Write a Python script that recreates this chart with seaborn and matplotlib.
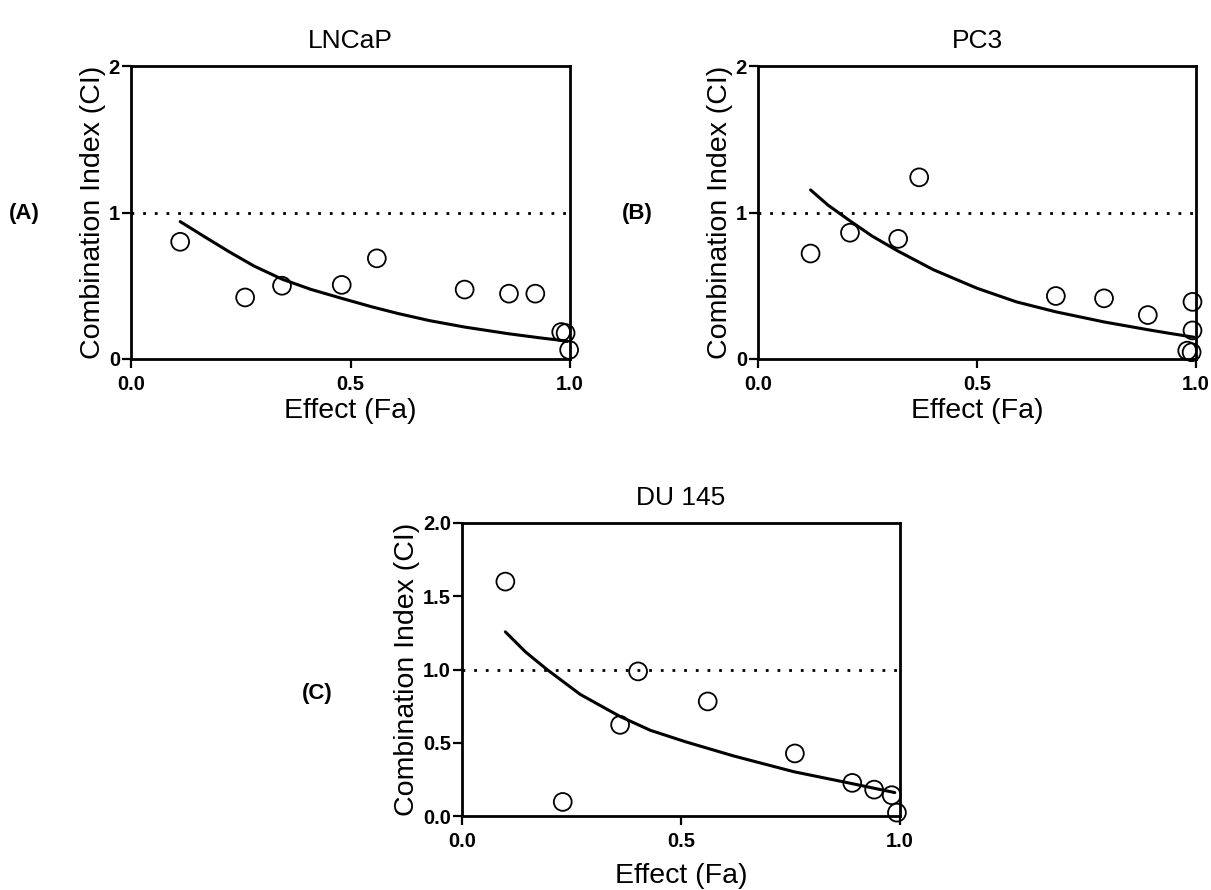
import numpy as np
import pandas as pd
import seaborn as sns
import matplotlib.pyplot as plt

# measured points (Fa, CI)
lncap_fa = [0.112, 0.26, 0.344, 0.48, 0.56, 0.76, 0.861, 0.921, 0.98, 0.99, 0.998]
lncap_ci = [0.80, 0.42, 0.50, 0.506, 0.687, 0.474, 0.446, 0.446, 0.184, 0.177, 0.062]
lncap_curve_fa = [0.112, 0.17, 0.223, 0.28, 0.344, 0.41, 0.48, 0.55, 0.609, 0.68, 0.76, 0.861, 0.93, 0.994]
lncap_curve_ci = [0.938, 0.83, 0.733, 0.635, 0.545, 0.475, 0.414, 0.355, 0.31, 0.262, 0.218, 0.172, 0.145, 0.122]

pc3_fa = [0.12, 0.21, 0.32, 0.368, 0.68, 0.79, 0.89, 0.992, 0.992, 0.98, 0.99]
pc3_ci = [0.72, 0.862, 0.82, 1.24, 0.43, 0.414, 0.30, 0.39, 0.195, 0.057, 0.046]
pc3_curve_fa = [0.12, 0.16, 0.21, 0.26, 0.32, 0.40, 0.5, 0.59, 0.68, 0.79, 0.89, 0.94, 0.995]
pc3_curve_ci = [1.154, 1.05, 0.943, 0.84, 0.736, 0.61, 0.483, 0.39, 0.322, 0.253, 0.20, 0.175, 0.149]

du145_fa = [0.099, 0.23, 0.361, 0.402, 0.561, 0.76, 0.891, 0.941, 0.981, 0.993]
du145_ci = [1.60, 0.096, 0.622, 0.987, 0.782, 0.427, 0.226, 0.18, 0.142, 0.023]
du145_curve_fa = [0.099, 0.145, 0.194, 0.27, 0.361, 0.43, 0.51, 0.62, 0.758, 0.889, 0.94, 0.988]
du145_curve_ci = [1.257, 1.12, 1.0, 0.83, 0.679, 0.585, 0.507, 0.41, 0.302, 0.222, 0.19, 0.16]

sns.set_style("ticks")
plt.rcParams['font.family'] = ['Liberation Sans', 'DejaVu Sans']
plt.rcParams['text.color'] = 'black'
plt.rcParams['axes.labelcolor'] = 'black'
plt.rcParams['xtick.color'] = 'black'
plt.rcParams['ytick.color'] = 'black'
plt.rcParams['axes.edgecolor'] = 'black'

fig = plt.figure(figsize=(12.11, 8.90), dpi=100)
W, H = 1211, 890
def box(x0, x1, y0, y1):
    return [x0 / W, 1 - y1 / H, (x1 - x0) / W, (y1 - y0) / H]

ax_a = fig.add_axes(box(131, 570, 66, 359))
ax_b = fig.add_axes(box(758, 1196, 66, 359))
ax_c = fig.add_axes(box(462, 900, 523, 816))

panels = [
    (ax_a, 'LNCaP', lncap_fa, lncap_ci, lncap_curve_fa, lncap_curve_ci, [0, 1, 2], '%d', 3),
    (ax_b, 'PC3', pc3_fa, pc3_ci, pc3_curve_fa, pc3_curve_ci, [0, 1, 2], '%d', 3),
    (ax_c, 'DU 145', du145_fa, du145_ci, du145_curve_fa, du145_curve_ci, [0, 0.5, 1.0, 1.5, 2.0], '%.1f', 9),
]

for ax, title, fa, ci, cfa, cci, yt, fmt, xpad in panels:
    pts = pd.DataFrame({'fa': fa, 'ci': ci})
    crv = pd.DataFrame({'fa': cfa, 'ci': cci})
    ax.axhline(1.0, ls=(0, (1, 3.2)), lw=2, color='black', zorder=1)
    sns.lineplot(data=crv, x='fa', y='ci', ax=ax, color='black', lw=2.2, zorder=2)
    sns.scatterplot(data=pts, x='fa', y='ci', ax=ax, marker='o', s=165,
                    facecolor='none', edgecolor='black', linewidth=1.3, zorder=3, clip_on=False)
    ax.set_xlim(0, 1)
    ax.set_ylim(0, 2)
    ax.set_xticks([0, 0.5, 1.0])
    ax.set_xticklabels(['0.0', '0.5', '1.0'])
    ax.set_yticks(yt)
    ax.set_yticklabels([fmt % v for v in yt])
    for sp in ax.spines.values():
        sp.set_visible(True)
        sp.set_linewidth(2)
        sp.set_color('black')
    ax.tick_params(direction='out', length=6.5, width=1.6, labelsize=14.5, colors='black')
    ax.tick_params(axis='x', pad=5)
    ax.tick_params(axis='y', pad=1.5)
    for lab in ax.get_xticklabels() + ax.get_yticklabels():
        lab.set_fontweight('bold')
    ax.set_xlabel('Effect (Fa)', fontsize=20.5, labelpad=xpad)
    ax.set_ylabel('Combination Index (CI)', fontsize=20.5, labelpad=2)
    ax.set_title(title, fontsize=19, pad=13)

for lbl, x, y in [('(A)', 9, 213), ('(B)', 622, 213), ('(C)', 302, 693)]:
    fig.text(x / W, 1 - y / H, lbl, fontsize=16, fontweight='bold', va='center', ha='left')

fig.savefig('out.png', dpi=100)
